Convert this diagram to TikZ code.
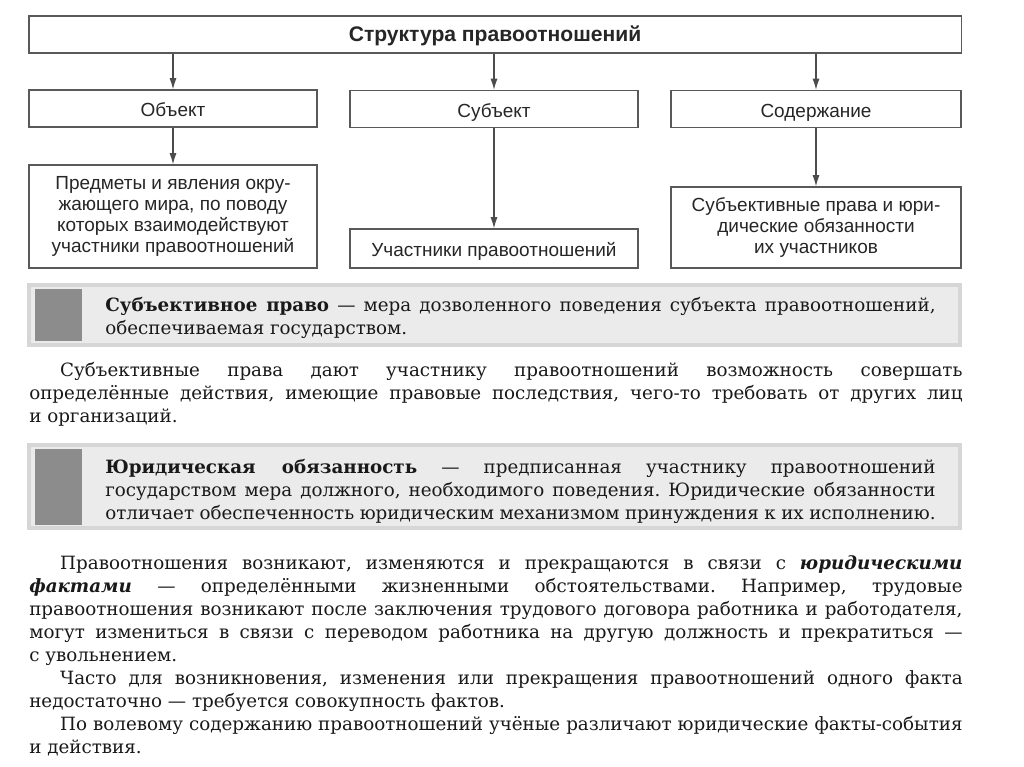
\documentclass[tikz,border=0pt]{standalone}
\usepackage{fontspec}
\setmainfont{DejaVu Serif}
\newfontfamily\boxfont{Liberation Sans}
\usetikzlibrary{arrows.meta}
\newcommand\parstart{\hspace*{22pt}}

\begin{document}
\frenchspacing
\begin{tikzpicture}[x=0.025cm,y=-0.025cm,
  box/.style={draw=black!65,line width=0.9pt,font=\boxfont\fontsize{13.5}{15}\selectfont,text=black!85,align=center,inner sep=0pt},
  oneline/.style={text height=14.5pt,text depth=3pt},
  link/.style={draw=black!70,line width=0.8pt,-{Latex[length=8pt,width=5pt]}},
  defn/.style={fill=black!8,draw=black!16,line width=3pt},
  defmark/.style={fill=black!45},
  body/.style={anchor=north west,inner sep=0pt,align=justify,text=black!90,font=\fontsize{13}{16.4}\selectfont}]
\useasboundingbox[fill=white] (0,0) rectangle (1024,767);
% scheme
\node[box,text height=13.6pt,text depth=3pt,minimum width=23.3cm,minimum height=0.925cm,font=\boxfont\bfseries\fontsize{15}{17}\selectfont] (title) at (495,34.5) {Структура правоотношений};
\node[box,oneline,minimum width=7.2cm,minimum height=0.925cm] (obj) at (173,108.5) {Объект};
\node[box,oneline,minimum width=7.2cm,minimum height=0.925cm] (subj) at (494,109) {Субъект};
\node[box,oneline,minimum width=7.25cm,minimum height=0.925cm] (cont) at (816,109) {Содержание};
\node[box,minimum width=7.2cm,minimum height=2.575cm] (objd) at (173,216.5) {Предметы и явления окру-\\жающего мира, по поводу\\которых взаимодействуют\\участники правоотношений};
\node[box,oneline,minimum width=7.2cm,minimum height=0.975cm] (subjd) at (494,248.5) {Участники правоотношений};
\node[box,minimum width=7.25cm,minimum height=2.025cm] (contd) at (816,227.5) {Субъективные права и юри-\\дические обязанности\\их участников};
\foreach \n/\m in {obj/objd,subj/subjd,cont/contd}{
  \draw[link] (\n.north |- title.south) -- (\n.north);
  \draw[link] (\n.south) -- (\m.north);
}
% definitions
\filldraw[defn] (29,285) rectangle (960,345);
\fill[defmark] (35,289) rectangle (82,341);
\node[body,text width=20.75cm] (def1) at (105,297) {\textbf{Субъективное право} — мера дозволенного поведения субъекта правоотношений,\linebreak обеспечиваемая государством.};
\filldraw[defn] (29,445) rectangle (960,528);
\fill[defmark] (35,449) rectangle (82,525);
\node[body,text width=20.75cm] (def2) at (105,459) {\textbf{Юридическая обязанность} — предписанная участнику правоотношений\linebreak государством мера должного, необходимого поведения. Юридические обязанности\linebreak отличает обеспеченность юридическим механизмом принуждения к их исполнению.};
% text
\node[body,text width=23.325cm] (par1) at (29,362) {\parstart Субъективные права дают участнику правоотношений возможность совершать\linebreak определённые действия, имеющие правовые последствия, чего-то требовать от других лиц\linebreak и организаций.};
\node[body,text width=23.325cm] (par2) at (29,555) {\parstart Правоотношения возникают, изменяются и прекращаются в связи с \textbf{\textit{юридическими}}\linebreak \textbf{\textit{фактами}} — определёнными жизненными обстоятельствами. Например, трудовые\linebreak правоотношения возникают после заключения трудового договора работника и работодателя,\linebreak могут измениться в связи с переводом работника на другую должность и прекратиться —\linebreak с увольнением.\par
\parstart Часто для возникновения, изменения или прекращения правоотношений одного факта\linebreak недостаточно — требуется совокупность фактов.\par
\parstart По волевому содержанию правоотношений учёные различают юридические факты-события\linebreak и действия.};
\end{tikzpicture}
\end{document}
